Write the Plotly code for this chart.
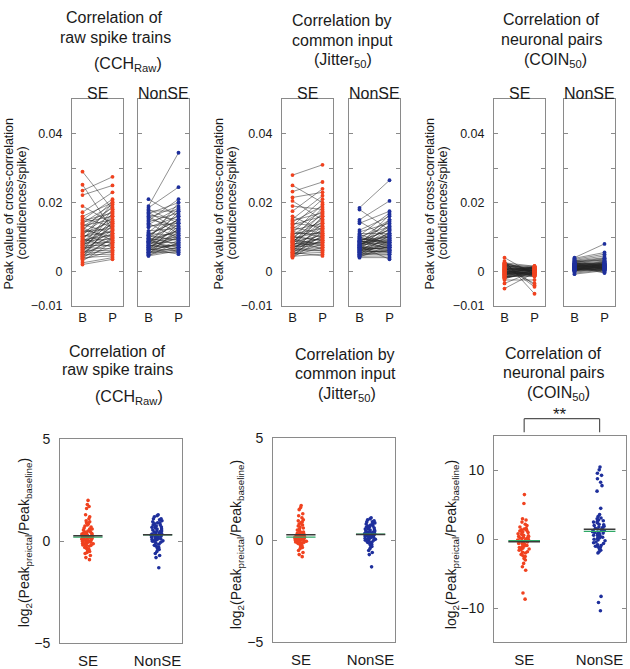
import plotly.graph_objects as go
import numpy as np

# ---------------- DATA ----------------
# Top row: peak value of cross-correlation (units of 1e-4 coincidences/spike), baseline (B) and preictal (P)
raw_se_B = [290, 252, 235, 222, 190, 172, 160, 155, 150, 147,
            143, 140, 137, 133, 130, 127, 124, 121, 118, 115,
            112, 110, 107, 104, 102, 100, 97, 95, 92, 90,
            88, 86, 84, 82, 80, 78, 76, 74, 72, 70,
            68, 66, 64, 62, 60, 58, 56, 54, 52, 50,
            48, 46, 44, 42, 40, 38, 35, 30, 25, 20]
raw_se_P = [180, 120, 275, 250, 140, 230, 200, 130, 210, 170,
            160, 195, 110, 150, 185, 90, 175, 100, 205, 125,
            165, 145, 80, 190, 115, 135, 155, 70, 105, 200,
            95, 120, 160, 85, 140, 110, 75, 130, 180, 65,
            100, 150, 90, 60, 120, 170, 55, 80, 110, 135,
            50, 95, 70, 145, 45, 100, 60, 85, 40, 35]
raw_non_B = [210, 190, 185, 180, 176, 172, 168, 164, 160, 156,
             152, 148, 144, 140, 136, 132, 128, 118, 114, 110,
             107, 104, 101, 98, 96, 94, 92, 90, 88, 86,
             84, 82, 80, 78, 76, 74, 72, 70, 68, 66,
             64, 62, 60, 58, 56, 54, 52, 50, 48, 46,
             45, 70, 75, 85, 95, 105, 65, 55, 62, 88]
raw_non_P = [160, 345, 245, 140, 175, 120, 200, 150, 110, 190,
             130, 210, 170, 95, 185, 140, 160, 125, 180, 105,
             150, 90, 165, 135, 80, 115, 200, 100, 145, 70,
             120, 85, 175, 110, 65, 95, 155, 75, 130, 60,
             100, 140, 80, 115, 55, 90, 70, 125, 65, 85,
             60, 105, 75, 95, 55, 150, 50, 70, 80, 120]

jit_se_B = [280, 250, 232, 215, 205, 190, 175, 160, 152, 148,
            144, 140, 136, 132, 128, 124, 120, 116, 112, 108,
            105, 102, 99, 96, 93, 90, 88, 86, 84, 82,
            80, 78, 76, 74, 72, 70, 68, 66, 64, 62,
            60, 58, 56, 54, 52, 50, 48, 46, 44, 42,
            40, 65, 75, 85, 95, 110, 55, 70, 90, 100]
jit_se_P = [310, 200, 260, 230, 150, 180, 240, 120, 220, 170,
            190, 130, 160, 210, 110, 175, 140, 100, 195, 125,
            165, 90, 150, 115, 185, 80, 135, 105, 170, 75,
            145, 95, 120, 70, 160, 85, 110, 65, 130, 100,
            60, 140, 90, 115, 55, 80, 105, 70, 50, 125,
            95, 60, 85, 155, 75, 110, 45, 100, 65, 90]
jit_non_B = [185, 180, 150, 145, 140, 120, 115, 110, 107, 104,
             101, 98, 95, 92, 90, 88, 86, 84, 82, 80,
             78, 76, 74, 72, 70, 68, 66, 64, 62, 60,
             58, 56, 54, 52, 50, 48, 46, 44, 42, 40,
             75, 65, 85, 95, 55, 70, 60, 80, 90, 100,
             68, 72, 62, 58, 50, 45, 78, 88, 66, 74]
jit_non_P = [265, 120, 205, 95, 175, 160, 140, 110, 80, 170,
             130, 75, 150, 100, 65, 120, 90, 145, 70, 110,
             85, 165, 60, 100, 135, 75, 55, 125, 95, 70,
             115, 60, 80, 50, 105, 65, 90, 45, 75, 40,
             130, 70, 100, 85, 60, 110, 55, 95, 120, 80,
             65, 150, 70, 85, 50, 60, 105, 75, 90, 35]

coin_se_B = [40, 30, 25, 22, 20, 18, 15, 12, 10, 8,
             6, 4, 2, 0, -2, -4, -6, -8, -10, -12,
             -14, -16, -18, -20, -25, -35, -50, 5, -5, 14,
             9, -3, 3, -9, 11, -11, 1, -1, 7, -7,
             16, -15, 13, -13, 17, 19, -17, 21, -19, 24,
             -22, 26, 23, 2, -6, 0, 10, -10, 6, -4]
coin_se_P = [-10, -65, 15, 5, -45, 0, 10, -5, -35, 8,
             -8, 12, -12, 3, -3, 14, -1, 6, -6, 2,
             -15, 10, -2, 4, -25, 1, -4, 9, -9, 0,
             11, -11, 7, -7, -3, 13, 5, -14, 2, -5,
             15, -10, 3, -13, 8, -1, 6, 12, -6, -40,
             4, -2, 1, -8, 10, -4, 0, 16, -12, 7]
coin_non_B = [40, 38, 35, 32, 30, 28, 26, 24, 22, 20,
              18, 16, 14, 12, 10, 8, 6, 4, 2, 0,
              -2, -5, -8, 15, 17, 13, 11, 9, 7, 5,
              3, 1, 25, 21, 19, 23, 27, 29, 12, 14,
              10, 8, 6, 4, 2, 16, 18, 20, 11, 9,
              7, 13, 15, 5, 3, 22, 24, 17, 19, 33]
coin_non_P = [80, 55, 50, 45, 40, 38, 36, 34, 30, 28,
              26, 24, 22, 20, 18, 16, 14, 12, 10, 8,
              6, 4, 2, 0, -3, -5, 21, 17, 13, 9,
              27, 23, 19, 15, 11, 7, 3, 32, 29, 25,
              14, 10, 6, 2, 18, 12, 8, 16, 20, 5,
              11, 15, 9, 13, 7, 22, 17, 19, 10, 12]

# Bottom row: log2(Peak_preictal / Peak_baseline)
raw_se_log = [2.0, 1.8, 1.7, 1.6, 1.3, 1.2, 1.1, 1.0, 0.95, 0.9, 0.85, 0.8, 0.75, 0.7, 0.65, 0.6,
              0.55, 0.5, 0.45, 0.4, 0.38, 0.35, 0.32, 0.3, 0.28, 0.25, 0.22, 0.2, 0.18, 0.15, 0.12,
              0.1, 0.08, 0.05, 0.02, 0.0, -0.02, -0.05, -0.08, -0.1, -0.12, -0.15, -0.18, -0.2,
              -0.25, -0.3, -0.35, -0.4, -0.45, -0.5, -0.55, -0.6, -0.7, -0.8, -0.9, 0.6, 0.4, 0.2,
              0.1, 0.0, -0.1, 0.3, 0.5, 0.15, -0.05, 0.25, 0.35, 0.45, 0.05, -0.2]
raw_non_log = [1.3, 1.25, 1.2, 1.1, 1.05, 1.0, 0.95, 0.9, 0.85, 0.8, 0.75, 0.7, 0.68, 0.65, 0.6,
               0.55, 0.5, 0.48, 0.45, 0.4, 0.38, 0.35, 0.32, 0.3, 0.28, 0.25, 0.22, 0.2, 0.18, 0.15,
               0.12, 0.1, 0.08, 0.05, 0.02, 0.0, -0.05, -0.1, -0.15, -0.2, -0.25, -0.3, -0.35, -0.4,
               -0.5, -0.6, -0.7, -0.8, -1.3, 0.9, 0.7, 0.5, 0.3, 0.1, 0.6, 0.4, 0.2, 0.0, 1.1, 0.8]
jit_se_log = [1.7, 1.6, 1.5, 1.3, 1.2, 1.1, 1.0, 0.95, 0.9, 0.85, 0.8, 0.75, 0.7, 0.65, 0.6, 0.55,
              0.5, 0.45, 0.4, 0.35, 0.3, 0.28, 0.25, 0.22, 0.2, 0.18, 0.15, 0.12, 0.1, 0.08, 0.05,
              0.03, 0.0, -0.02, -0.05, -0.08, -0.1, -0.12, -0.15, -0.2, -0.25, -0.3, -0.35, -0.4,
              -0.5, -0.6, -0.7, -0.8, 0.1, 0.0, 0.2, 0.05, -0.1, 0.15, 0.3, 0.12, -0.05, 0.4, 0.08, 0.02]
jit_non_log = [1.1, 1.05, 1.0, 0.95, 0.9, 0.85, 0.8, 0.75, 0.7, 0.65, 0.6, 0.55, 0.5, 0.45, 0.42,
               0.4, 0.38, 0.35, 0.32, 0.3, 0.28, 0.25, 0.22, 0.2, 0.18, 0.15, 0.12, 0.1, 0.08, 0.05,
               0.02, 0.0, -0.05, -0.1, -0.15, -0.2, -0.25, -0.3, -0.4, -0.5, -0.6, -0.7, -1.3, 0.9,
               0.6, 0.3, 0.5, 0.2, 0.7, 0.4, 0.1, 0.8, 0.25, 0.35, 0.45, -0.1, 0.0, 0.15, 0.55, 0.65]
coin_se_log = [6.5, 5.2, 3.0, 2.8, 2.5, 2.2, 2.0, 1.8, 1.6, 1.4, 1.2, 1.0, 0.8, 0.6, 0.4, 0.2, 0.0,
               -0.2, -0.4, -0.6, -0.8, -1.0, -1.2, -1.4, -1.6, -1.8, -2.0, -2.2, -2.5, -2.8, -3.0,
               -3.5, -4.0, -4.5, -7.8, -8.7, 0.5, -0.5, 1.5, -1.5, 0.1, -0.1, 0.3, -0.3, 0.7, -0.7,
               0.9, -0.9, 1.1, -1.1, 0.0, -0.2, -0.4, 0.2, -1.3, -2.4, 1.3, -0.6, -1.9, 0.4]
coin_non_log = [10.5, 10.1, 9.6, 9.3, 8.8, 8.3, 7.8, 7.0, 4.5, 3.6, 3.3, 3.0, 2.8, 2.6, 2.4, 2.2,
                2.0, 1.8, 1.6, 1.4, 1.2, 1.0, 0.8, 0.6, 0.4, 0.2, 0.0, -0.2, -0.4, -0.6, -0.8, -1.0,
                -1.2, -1.4, -1.6, -1.8, -2.0, -8.3, -9.2, -10.4, 1.1, 0.9, 1.3, 0.7, 1.5, 0.5, 2.1,
                -0.1, 2.5, -0.5, 1.7, 0.3, 3.1, -1.1, 1.9, 0.1, 2.7, -0.9, 1.0, 1.2]

top_ticks = [-0.01, 0, 0.01, 0.02, 0.03, 0.04]
top_ticktext = ["\u22120.01", "0", " ", "0.02", " ", "0.04"]
pair_labels = ["B", "P"]
group_labels = ["SE", "NonSE"]
titles = [("Correlation of", "raw spike trains", "(CCH<sub>Raw</sub>)"),
          ("Correlation by", "common input", "(Jitter<sub>50</sub>)"),
          ("Correlation of", "neuronal pairs", "(COIN<sub>50</sub>)")]

# ---------------- STYLE ----------------
W, H = 630, 669
RED = "#f0421f"
BLUE = "#1e2f9c"
GREEN = "#2fa866"
DARK = "#3a3a3a"
FRAME = "#8a8a8a"
FONT = "Arial, Liberation Sans, sans-serif"
SCALE = 1e-4


def xd(a, b):
    return [a / W, b / W]


def yd(top, bot):
    return [1 - bot / H, 1 - top / H]


fig = go.Figure()
layout = {}
annotations = []
shapes = []


def ann(text, x, y, size, angle=0, **kw):
    annotations.append(dict(text=text, x=x / W, y=1 - y / H, xref="paper", yref="paper",
                            showarrow=False, textangle=angle, xanchor="center", yanchor="middle",
                            font=dict(size=size, color="#1a1a1a", family=FONT), **kw))


# ----- top row -----
top_sets = [(raw_se_B, raw_se_P, RED), (raw_non_B, raw_non_P, BLUE),
            (jit_se_B, jit_se_P, RED), (jit_non_B, jit_non_P, BLUE),
            (coin_se_B, coin_se_P, RED), (coin_non_B, coin_non_P, BLUE)]
top_xdom = [(72, 123), (138, 189), (282, 333), (349, 400), (494, 545), (564, 615)]
TOP_T, TOP_B = 94, 306

for i, ((B, P, col), (xa, xb)) in enumerate(zip(top_sets, top_xdom), start=1):
    b = [v * SCALE for v in B]
    p = [v * SCALE for v in P]
    lx, ly = [], []
    for bv, pv in zip(b, p):
        lx += [1, 2, None]
        ly += [bv, pv, None]
    fig.add_trace(go.Scatter(x=lx, y=ly, mode="lines", line=dict(color="rgba(35,35,35,0.72)", width=0.7),
                             xaxis=f"x{i}", yaxis=f"y{i}", hoverinfo="skip", showlegend=False))
    fig.add_trace(go.Scatter(x=[1] * len(b) + [2] * len(p), y=b + p, mode="markers",
                             marker=dict(color=col, size=3.8, line=dict(width=0)),
                             xaxis=f"x{i}", yaxis=f"y{i}", hoverinfo="skip", showlegend=False))
    se = (i % 2 == 1)
    layout[f"xaxis{i}"] = dict(domain=xd(xa, xb), anchor=f"y{i}", range=[0.65, 2.35],
                               tickvals=[1, 2], ticktext=pair_labels, ticks="", showgrid=False,
                               zeroline=False, showline=True, mirror=True, linecolor=FRAME, linewidth=1,
                               tickfont=dict(size=13, family=FONT, color="#1a1a1a"))
    layout[f"yaxis{i}"] = dict(domain=yd(TOP_T, TOP_B), anchor=f"x{i}", range=[-0.01, 0.05],
                               tickvals=top_ticks, ticktext=top_ticktext, ticks="inside", ticklen=4,
                               tickcolor=FRAME, showticklabels=se, showgrid=False, zeroline=False,
                               showline=True, mirror="ticks", linecolor=FRAME, linewidth=1,
                               ticklabelstandoff=6,
                               tickfont=dict(size=12.5, family=FONT, color="#1a1a1a"))
    ann(group_labels[(i - 1) % 2], (xa + xb) / 2, 88, 16)

# top titles
top_title_pos = [((114, 10), (115, 30), (128, 58)),
                 ((342, 13), (342, 33), (343, 54)),
                 ((551, 12), (551, 32), (555, 54))]
for (l1, l2, l3), pos in zip(titles, top_title_pos):
    for txt, (x, y) in zip((l1, l2, l3), pos):
        ann(txt, x, y, 16)

for x in (9, 219, 430):
    ann("Peak value of cross-correlation", x, 201, 12.5, angle=-90)
    ann("(coindicences/spike)", x + 13, 201, 12.5, angle=-90)

# ----- bottom row -----
bot_sets = [(raw_se_log, raw_non_log), (jit_se_log, jit_non_log), (coin_se_log, coin_non_log)]
bot_xdom = [(60, 182), (273, 395), (494, 626)]
bot_ydom = [(443, 653), (442, 652), (440, 652)]
bot_ranges = [[-5, 5], [-5, 5], [-15, 15]]
bot_ticks = [[-5, 0, 5], [-5, 0, 5], [-10, 0, 10]]
bot_ticktext = [["\u22125", "0", "5"], ["\u22125", "0", "5"], ["\u221210", "0", "10"]]
HALF = 0.21

for k, ((se_v, non_v), (xa, xb), (yt, yb)) in enumerate(zip(bot_sets, bot_xdom, bot_ydom)):
    i = 7 + k
    for pos, vals, col in ((1, se_v, RED), (2, non_v, BLUE)):
        fig.add_trace(go.Box(x=[pos] * len(vals), y=vals, orientation="v", boxpoints="all", jitter=1.0,
                             pointpos=0, width=0.2, fillcolor="rgba(0,0,0,0)",
                             line=dict(width=0, color="rgba(0,0,0,0)"),
                             marker=dict(color=col, size=3.6, line=dict(width=0)),
                             xaxis=f"x{i}", yaxis=f"y{i}", hoverinfo="skip", showlegend=False))
    for pos, vals in ((1, se_v), (2, non_v)):
        med = float(np.median(vals))
        mean = float(np.mean(vals))
        fig.add_trace(go.Scatter(x=[pos - HALF, pos + HALF], y=[med, med], mode="lines",
                                 line=dict(color=GREEN, width=1.3), xaxis=f"x{i}", yaxis=f"y{i}",
                                 hoverinfo="skip", showlegend=False))
        fig.add_trace(go.Scatter(x=[pos - HALF, pos + HALF], y=[mean, mean], mode="lines",
                                 line=dict(color=DARK, width=1.6), xaxis=f"x{i}", yaxis=f"y{i}",
                                 hoverinfo="skip", showlegend=False))
    layout[f"xaxis{i}"] = dict(domain=xd(xa, xb), anchor=f"y{i}", range=[0.6, 2.35],
                               tickvals=[1, 2], ticktext=group_labels, ticks="", showgrid=False,
                               zeroline=False, showline=True, mirror=True, linecolor=FRAME, linewidth=1,
                               ticklabelstandoff=4,
                               tickfont=dict(size=15, family=FONT, color="#1a1a1a"))
    layout[f"yaxis{i}"] = dict(domain=yd(yt, yb), anchor=f"x{i}", range=bot_ranges[k],
                               tickvals=bot_ticks[k], ticktext=bot_ticktext[k], ticks="inside",
                               ticklen=4, tickcolor=FRAME, showgrid=False, zeroline=False,
                               showline=True, mirror="ticks", linecolor=FRAME, linewidth=1,
                               ticklabelstandoff=6,
                               tickfont=dict(size=14, family=FONT, color="#1a1a1a"))

bot_title_pos = [((117, 353), (117, 372), (129, 400)),
                 ((345, 356), (345, 376), (347, 397)),
                 ((553, 355), (553, 375), (558, 396))]
for (l1, l2, l3), pos in zip(titles, bot_title_pos):
    for txt, (x, y) in zip((l1, l2, l3), pos):
        ann(txt, x, y, 16)

ytitle_bot = "log<sub>2</sub>(Peak<sub>preictal</sub>/Peak<sub>baseline</sub>)"
for x, y in ((25, 550), (237, 552), (452, 552)):
    ann(ytitle_bot, x, y, 14, angle=-90)

# significance bracket on COIN panel
for x0, y0, x1, y1 in ((1, 436, 1, 422), (1, 422, 2, 422), (2, 422, 2, 436)):
    shapes.append(dict(type="line", xref="x9", yref="paper", x0=x0, x1=x1,
                       y0=1 - y0 / H, y1=1 - y1 / H, line=dict(color="#555555", width=1.2)))
ann("**", 560, 418, 17)

fig.update_layout(width=W, height=H, margin=dict(l=0, r=0, t=0, b=0),
                  paper_bgcolor="white", plot_bgcolor="white", showlegend=False,
                  boxmode="overlay", annotations=annotations, shapes=shapes,
                  font=dict(family=FONT, color="#1a1a1a"), **layout)

fig.write_html("out.html")
